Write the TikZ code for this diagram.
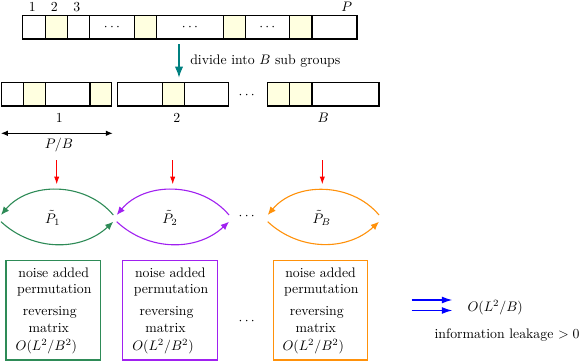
\documentclass[tikz,border=0pt]{standalone}
\usetikzlibrary{arrows.meta}
\definecolor{cellyellow}{RGB}{255,255,224}
\definecolor{grpgreen}{RGB}{46,139,87}
\definecolor{grppurple}{RGB}{160,32,240}
\definecolor{grporange}{RGB}{255,145,10}
\definecolor{divteal}{RGB}{0,128,128}
\begin{document}
\begin{tikzpicture}[x=0.725pt,y=-0.725pt,
  barline/.style={draw=black,line width=0.8pt},
  lbl/.style={inner sep=0pt},
  arcline/.style={line width=0.8pt,-{Latex[length=6pt,width=5pt]}},
  grpbox/.style={line width=0.8pt},
  boxtxt/.style={inner sep=0pt,anchor=base}]
\useasboundingbox (0,0) rectangle (580,362);

% ---------- top bar ----------
\foreach \a/\b in {45.3/67.3,134.7/156.7,223.3/245.3,289.3/312}
  \fill[cellyellow] (\a,15.7) rectangle (\b,39);
\draw[barline] (22.7,15.7) rectangle (357,39);
\foreach \x in {45.3,67.3,89.3,134.7,156.7,223.3,245.3,289.3,312}
  \draw[barline] (\x,15.7) -- (\x,39);
\node[lbl] (d1) at (112,27.3) {$\cdots$};
\node[lbl] (d2) at (190,27.3) {$\cdots$};
\node[lbl] (d3) at (267.3,27.3) {$\cdots$};
\node[lbl] (t1) at (32.3,6.7) {1};
\node[lbl] (t2) at (54.3,6.7) {2};
\node[lbl] (t3) at (76.7,6.7) {3};
\node[lbl] (tP) at (346.7,6.7) {$P$};

% ---------- divide arrow ----------
\coordinate (divS) at (179,44.3);
\coordinate (divE) at (179,77.7);
\draw[divteal,line width=0.9pt,-{Latex[length=8pt,width=6pt]}] (divS) -- (divE);
\node[lbl,anchor=base west] (divlbl) at (190,64.7) {divide into $B$ sub groups};

% ---------- sub groups ----------
\foreach \a/\b in {23.3/45.3,90/111.7,162.3/184.3,267.7/289.3,289.3/312}
  \fill[cellyellow] (\a,82.7) rectangle (\b,106);
\draw[barline] (1.7,82.7) rectangle (111.7,106);
\draw[barline] (117.3,82.7) rectangle (228.3,106);
\draw[barline] (267.7,82.7) rectangle (379,106);
\foreach \x in {23.3,45.3,90,162.3,184.3,289.3,312}
  \draw[barline] (\x,82.7) -- (\x,106);
\node[lbl] (d4) at (246.7,95) {$\cdots$};
\node[lbl] (g1) at (59.3,118) {1};
\node[lbl] (g2) at (176.7,118) {2};
\node[lbl] (gB) at (323.3,118) {$B$};

% ---------- size arrow ----------
\coordinate (szL) at (1,133.3);
\coordinate (szR) at (112.7,133.3);
\draw[line width=0.7pt,{Latex[length=5pt,width=4pt]}-{Latex[length=5pt,width=4pt]}] (szL) -- (szR);
\node[lbl] (PB) at (59,145.5) {$P/B$};

% ---------- red arrows ----------
\foreach \n/\x in {r1/56.7,r2/172.7,r3/322.3}{
  \coordinate (\n s) at (\x,160);
  \coordinate (\n e) at (\x,184.3);
  \draw[red,line width=0.7pt,-{Latex[length=5.5pt,width=3.8pt]}] (\n s) -- (\n e);
}

% ---------- cycles ----------
\foreach \n/\l/\r/\c in {cg/1/113.3/grpgreen,cp/116.7/229/grppurple,co/267.7/379/grporange}{
  \coordinate (\n L1) at (\l,215);
  \coordinate (\n R1) at (\r,215);
  \coordinate (\n L2) at (\l,221.7);
  \coordinate (\n R2) at (\r,221.7);
  \draw[arcline,\c] (\n R1) to[bend right=50] (\n L1);
  \draw[arcline,\c] (\n L2) to[bend right=43] (\n R2);
}
\node[lbl] (P1) at (52.7,218) {$\tilde{P}_1$};
\node[lbl] (P2) at (170,218) {$\tilde{P}_2$};
\node[lbl] (PBt) at (321.7,218) {$\tilde{P}_B$};
\node[lbl] (d5) at (246.7,216.7) {$\cdots$};

% ---------- cost boxes ----------
\foreach \n/\l/\r/\c in {bg/6/100.7/grpgreen,bp/122.7/217.3/grppurple,bo/273.3/367.3/grporange}{
  \draw[grpbox,\c] (\l,260.3) rectangle (\r,360);
  \pgfmathsetmacro{\cx}{(\l+\r)/2}
  \node[boxtxt] (\n a) at (\cx+0.3,277) {noise added};
  \node[boxtxt] (\n b) at (\cx+1,293.7) {permutation};
  \node[boxtxt] (\n c) at (\cx-3.5,315.7) {reversing};
  \node[boxtxt] (\n d) at (\cx-4.5,332.3) {matrix};
  \node[boxtxt] (\n e) at (\cx-7,350.5) {$O(L^2/B^2)$};
}
\node[lbl] (d6) at (246.7,321.7) {$\cdots$};

% ---------- summary ----------
\coordinate (b1s) at (411.7,300);
\coordinate (b1e) at (452.3,300);
\coordinate (b2s) at (411.7,310.5);
\coordinate (b2e) at (452.3,310.5);
\draw[blue,line width=0.9pt,-{Latex[length=7.5pt,width=5pt]}] (b1s) -- (b1e);
\draw[blue,line width=0.9pt,-{Latex[length=7.5pt,width=5pt]}] (b2s) -- (b2e);
\node[lbl] (OLB) at (495.2,307.3) {$O(L^2/B)$};
\node[lbl,anchor=base west] (leak) at (434.3,338.5) {information leakage $>0$};
\end{tikzpicture}
\end{document}
